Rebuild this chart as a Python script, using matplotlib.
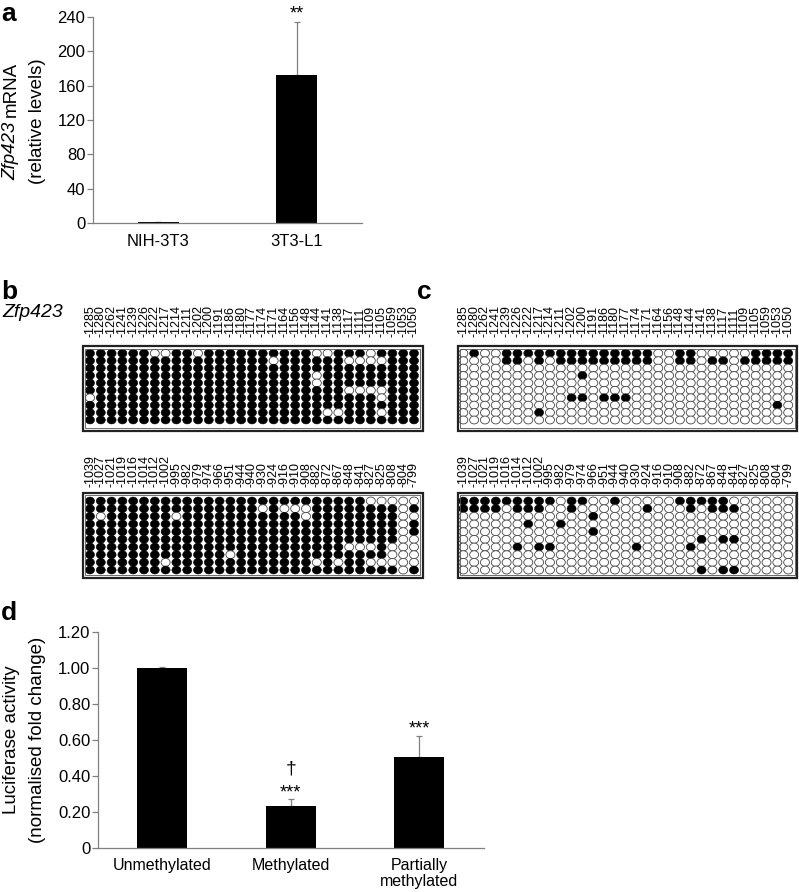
import matplotlib
matplotlib.use('Agg')
import matplotlib.pyplot as plt
from matplotlib.patches import Ellipse, Rectangle

plt.rcParams['font.family'] = ['Liberation Sans', 'DejaVu Sans']

# ---------------- data ----------------
a_categories = ['NIH-3T3', '3T3-L1']
a_values = [1.0, 173.0]
a_errors = [0.0, 61.0]
a_yticks = [0, 40, 80, 120, 160, 200, 240]

d_categories = ['Unmethylated', 'Methylated', 'Partially\nmethylated']
d_values = [1.00, 0.235, 0.508]
d_errors = [0.003, 0.037, 0.111]
d_yticks = [0, 0.2, 0.4, 0.6, 0.8, 1.0, 1.2]
d_yticklabels = ['0', '0.20', '0.40', '0.60', '0.80', '1.00', '1.20']

top_sites = ['-1285', '-1280', '-1262', '-1241', '-1239', '-1226', '-1222', '-1217',
             '-1214', '-1211', '-1202', '-1200', '-1191', '-1186', '-1180', '-1177',
             '-1174', '-1171', '-1164', '-1156', '-1148', '-1144', '-1141', '-1138',
             '-1117', '-1111', '-1109', '-1105', '-1059', '-1053', '-1050']
bottom_sites = ['-1039', '-1027', '-1021', '-1019', '-1016', '-1014', '-1012', '-1002',
                '-995', '-982', '-979', '-974', '-966', '-951', '-944', '-940',
                '-930', '-924', '-916', '-910', '-908', '-882', '-872', '-867',
                '-848', '-841', '-827', '-825', '-808', '-804', '-799']

# panel b (NIH-3T3): mostly methylated; unmethylated sites per clone
b_top_unmeth = [[6, 7, 10, 21, 22, 26], [17, 24, 25, 26, 27], [], [21], [21],
                [24, 25, 26, 27], [0, 27], [], [22, 23, 27], []]
b_bot_unmeth = [[26, 27, 28, 29, 30], [16, 18, 19, 20, 29], [1, 8, 20, 29, 30], [29], [29],
                [29, 30], [24, 25, 26, 28, 29, 30], [13, 28, 29, 30],
                [7, 21, 23, 26, 27, 28, 29, 30], [29]]
# panel c (3T3-L1): mostly unmethylated; methylated sites per clone
c_top_meth = [[1, 4, 5, 6, 7, 8, 9, 10, 11, 12, 13, 14, 15, 16, 17, 20, 21, 27, 28, 29, 30],
              [4, 5, 7, 9, 10, 11, 12, 13, 14, 15, 16, 17, 20, 21, 23, 24, 26, 27, 28, 29, 30],
              [], [11], [], [], [10, 11, 13, 14, 15], [29], [7], []]
c_bot_meth = [[0, 1, 2, 3, 4, 5, 6, 7, 8, 10, 11, 14, 20, 21, 22, 23, 24],
              [0, 1, 2, 3, 5, 6, 7, 10, 17, 21, 23, 24, 25],
              [12], [6, 9], [12], [22, 24, 25], [5, 7, 8, 16, 21], [], [], [22, 24, 25]]

# ---------------- figure ----------------
W, H = 799, 892
fig = plt.figure(figsize=(W / 100, H / 100), dpi=100)


def rect(x0, y0, x1, y1):
    return [x0 / W, 1 - y1 / H, (x1 - x0) / W, (y1 - y0) / H]


AXC = '#808080'


def style_bar_axes(ax):
    for s in ('top', 'right'):
        ax.spines[s].set_visible(False)
    for s in ('left', 'bottom'):
        ax.spines[s].set_color(AXC)
        ax.spines[s].set_linewidth(0.9)
    ax.tick_params(axis='y', direction='out', length=4, width=0.9, color=AXC,
                   labelsize=12, pad=1.5)
    ax.tick_params(axis='x', length=0, labelsize=12, pad=8)


# ---- panel a ----
axA = fig.add_axes(rect(93, 17, 362, 223))
xa = list(range(len(a_categories)))
axA.bar(xa, a_values, width=0.295, color='black', zorder=2)
axA.errorbar(xa, a_values, yerr=[[0] * len(a_errors), a_errors], fmt='none',
             ecolor=AXC, elinewidth=0.9, capsize=2.5, capthick=0.9, zorder=1)
axA.set_ylim(0, 240)
axA.set_yticks(a_yticks)
axA.set_xlim(-0.47, 1.47)
axA.set_xticks(xa)
axA.set_xticklabels(a_categories)
style_bar_axes(axA)
axA.annotate('**', xy=(1, a_values[1] + a_errors[1]), xytext=(0, 4),
             textcoords='offset pixels', ha='center', va='baseline', fontsize=13)

# y label of panel a: italic gene name + regular text, laid out piece by piece
fig.canvas.draw()
rend = fig.canvas.get_renderer()
YL_FS = 13.5
t1 = fig.text(11 / W, 0.5, 'Zfp423', style='italic', rotation=90, ha='center',
              va='bottom', fontsize=YL_FS)
t2 = fig.text(11 / W, 0.5, 'mRNA', rotation=90, ha='center', va='bottom', fontsize=YL_FS)
h1 = t1.get_window_extent(rend).height
h2 = t2.get_window_extent(rend).height
gap = YL_FS * 100 / 72 * 0.278
ycen = H - 121
ystart = ycen - (h1 + gap + h2) / 2
t1.set_position((11 / W, ystart / H))
t2.set_position((11 / W, (ystart + h1 + gap) / H))
fig.text(37 / W, ycen / H, '(relative levels)', rotation=90, ha='center', va='center',
         fontsize=YL_FS)

# ---- panel d ----
axD = fig.add_axes(rect(98, 631.5, 483.5, 848.3))
xd = list(range(len(d_categories)))
axD.bar(xd, d_values, width=0.39, color='black', zorder=2)
axD.errorbar(xd, d_values, yerr=[[0] * len(d_errors), d_errors], fmt='none',
             ecolor=AXC, elinewidth=0.9, capsize=2.5, capthick=0.9, zorder=1)
axD.set_ylim(0, 1.2)
axD.set_yticks(d_yticks)
axD.set_yticklabels(d_yticklabels)
axD.set_xlim(-0.5, 2.5)
axD.set_xticks(xd)
axD.set_xticklabels(d_categories, fontsize=11.5, linespacing=1.1)
style_bar_axes(axD)
axD.tick_params(axis='x', labelsize=11.5, pad=7)
axD.annotate('***', xy=(1, d_values[1] + d_errors[1]), xytext=(0, 2),
             textcoords='offset pixels', ha='center', va='baseline', fontsize=13)
axD.annotate('\u2020', xy=(1, d_values[1] + d_errors[1]), xytext=(0, 26),
             textcoords='offset pixels', ha='center', va='baseline', fontsize=14)
axD.annotate('***', xy=(2, d_values[2] + d_errors[2]), xytext=(0, 3),
             textcoords='offset pixels', ha='center', va='baseline', fontsize=13)
fig.text(12 / W, 1 - 740 / H, 'Luciferase activity', rotation=90, ha='center',
         va='center', fontsize=YL_FS)
fig.text(38 / W, 1 - 740 / H, '(normalised fold change)', rotation=90, ha='center',
         va='center', fontsize=YL_FS)


# ---- methylation grids ----
def draw_grid(box, c0, cs, r0, rs, filled, labels, label_off):
    x0, x1, y0, y1 = box
    ax = fig.add_axes(rect(x0, y0, x1, y1))
    ax.set_xlim((x0 - c0) / cs, (x1 - c0) / cs)
    ax.set_ylim((y1 - r0) / rs, (y0 - r0) / rs)
    ax.axis('off')
    for r, row in enumerate(filled):
        for c, v in enumerate(row):
            ax.add_patch(Ellipse((c, r), 9.0 / cs, 7.9 / rs,
                                 facecolor='black' if v else 'white',
                                 edgecolor='black' if v else '#444444',
                                 lw=0.4 if v else 0.6, zorder=2 + r))
    ax.add_patch(Rectangle((0, 0), 1, 1, transform=ax.transAxes, fill=False,
                           lw=1.6, edgecolor='#222222', clip_on=False, zorder=50))
    dx, dy = 2.6 / (x1 - x0), 2.6 / (y1 - y0)
    ax.add_patch(Rectangle((dx, dy), 1 - 2 * dx, 1 - 2 * dy, transform=ax.transAxes,
                           fill=False, lw=0.6, edgecolor='#555555', clip_on=False,
                           zorder=50))
    for c, lab in enumerate(labels):
        ax.annotate(lab, xy=(c, 1), xycoords=('data', 'axes fraction'),
                    xytext=(0, label_off), textcoords='offset pixels', rotation=90,
                    ha='center', va='bottom', fontsize=9)
    return ax


def from_exceptions(exc, default):
    n = len(top_sites)
    return [[(not default) if c in row else default for c in range(n)] for row in exc]


draw_grid((82.7, 423, 346, 430.7), 90, 10.8, 353.3, 7.41,
          from_exceptions(b_top_unmeth, True), top_sites, 9)
draw_grid((82.7, 423, 492.7, 577.5), 90, 10.8, 501, 7.67,
          from_exceptions(b_bot_unmeth, True), bottom_sites, 6)
draw_grid((457.7, 797.3, 346, 430.7), 463.3, 10.83, 353.3, 7.41,
          from_exceptions(c_top_meth, False), top_sites, 9)
draw_grid((457.7, 797.3, 492.7, 577.5), 463.3, 10.83, 501, 7.67,
          from_exceptions(c_bot_meth, False), bottom_sites, 6)

fig.text(2 / W, 1 - 317 / H, 'Zfp423', style='italic', ha='left', va='baseline',
         fontsize=14)

# panel letters
for lab, x, y in [('a', 1, 2), ('b', 1, 280), ('c', 417, 280), ('d', 1, 601)]:
    fig.text(x / W, 1 - y / H, lab, ha='left', va='top', fontsize=19, fontweight='bold')

fig.savefig('out.png', dpi=100)
